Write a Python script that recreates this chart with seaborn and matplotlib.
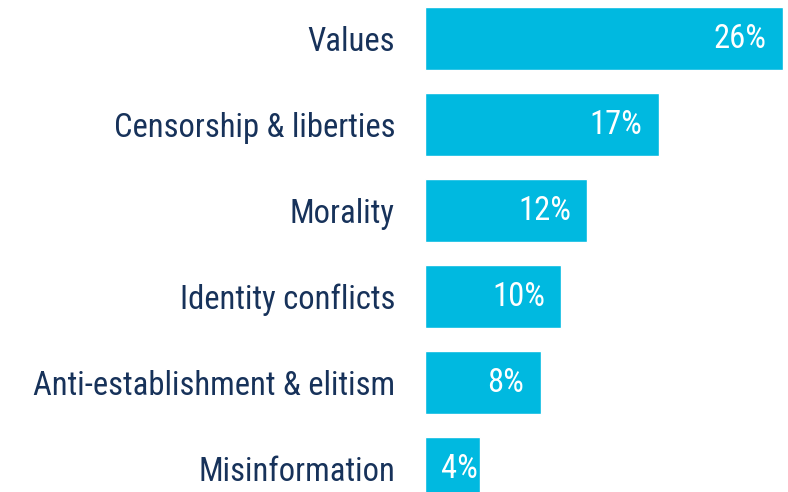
import matplotlib
matplotlib.use("Agg")
import matplotlib.pyplot as plt
import seaborn as sns
import pandas as pd

categories = ["Values", "Censorship & liberties", "Morality", "Identity conflicts",
              "Anti-establishment & elitism", "Misinformation"]
values = [26, 17, 11.8, 9.9, 8.4, 4]
value_labels = ["26%", "17%", "12%", "10%", "8%", "4%"]

df = pd.DataFrame({"category": categories, "value": values})

sns.set_theme(style="white")
plt.rcParams['font.family'] = ['Roboto Condensed', 'Roboto', 'DejaVu Sans']

BAR = "#00b9e0"
NAVY = "#17325a"
FS = 23.5

fig = plt.figure(figsize=(7.88, 4.92), dpi=100)
ax = fig.add_axes([425/788, 0, 363/788, 1])
sns.barplot(data=df, x="value", y="category", color=BAR, saturation=1,
            width=0.733, ax=ax, orient="h")

ax.set_xlim(0, 26 * 363/358)
ax.set_ylim((492 - 38.5)/86, -38.5/86)
ax.set_xlabel("")
ax.set_ylabel("")
ax.set_xticks([])
for s in ax.spines.values():
    s.set_visible(False)
ax.tick_params(axis="y", length=0, pad=21.6, labelsize=FS, labelcolor=NAVY)

for i, (v, lab) in enumerate(zip(values, value_labels)):
    if v < 6:
        ax.annotate(lab, (0, i), xytext=(11.5, 0), textcoords="offset points",
                    ha="left", va="center", color="white", fontsize=FS)
    else:
        ax.annotate(lab, (v, i), xytext=(-11.8, 0), textcoords="offset points",
                    ha="right", va="center", color="white", fontsize=FS)

fig.savefig("out.png", dpi=100)
